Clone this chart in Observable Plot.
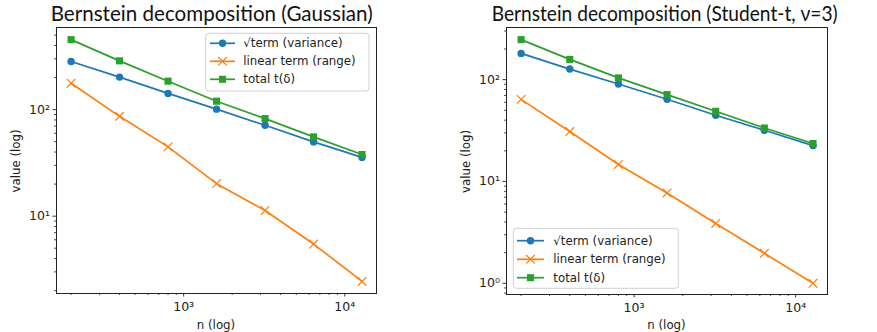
<!DOCTYPE html>
<html><head><meta charset="utf-8">
<script src="https://cdn.jsdelivr.net/npm/d3@7"></script>
<script src="https://cdn.jsdelivr.net/npm/@observablehq/plot@0.6"></script>
<style>
html,body{margin:0;padding:0;background:#fff;}
#wrap{position:relative;width:877px;height:332px;overflow:hidden;background:#fff;}
#wrap > svg{position:absolute;top:0;}
</style></head><body><div id="wrap"></div>
<script>
// ---- data ----
const nValues = [200, 400, 800, 1600, 3200, 6400, 12800];
const gaussSqrt   = [283, 202, 142, 101, 71.3, 49.8, 35.6];
const gaussLinear = [177, 86.5, 44.7, 20.2, 11.3, 5.47, 2.44];
const gaussTotal  = [454, 287, 185, 120, 82.4, 55.5, 37.9];
const studentSqrt   = [181, 127, 90.6, 64.1, 44.7, 31.8, 22.5];
const studentLinear = [64, 30.9, 14.7, 7.72, 3.87, 1.97, 1.0];
const studentTotal  = [247, 158, 104, 71.3, 48.9, 33.5, 23.6];
const seriesNames = ["√term (variance)", "linear term (range)", "total t(δ)"];
const titles = ["Bernstein decomposition (Gaussian)", "Bernstein decomposition (Student-t, ν=3)"];
const xMajorTicks = [1000, 10000];
const xMajorLabels = ["10³", "10⁴"];
const gaussYTicks = [10, 100];
const gaussYLabels = ["10¹", "10²"];
const studentYTicks = [1, 10, 100];
const studentYLabels = ["10⁰", "10¹", "10²"];
const xLabel = "n (log)";
const yLabel = "value (log)";

const colors = ["#1f77b4", "#ff7f0e", "#2ca02c"];
const FONT = "'DejaVu Sans', sans-serif";
const symR = [3.7, 4.0, 4.0];

function panel(o) {
  const rows = (vals) => nValues.map((n, i) => ({n, v: vals[i]}));
  const [sq, li, to] = [rows(o.sqrt), rows(o.linear), rows(o.total)];
  const xDomain = [Math.pow(10, 2.2107), Math.pow(10, 4.1968)];
  const isPow = t => Math.abs(Math.log10(t) - Math.round(Math.log10(t))) < 1e-9;
  const xMinor = d3.scaleLog().domain(xDomain).ticks().filter(t => !isPow(t));
  const yMinor = d3.scaleLog().domain(o.yDomain).ticks().filter(t => !isPow(t));
  const xFmt = d => xMajorLabels[xMajorTicks.indexOf(d)];
  const yFmt = d => o.yLabels[o.yTicks.indexOf(d)];
  return Plot.plot({
    width: o.width, height: 332,
    marginLeft: o.ml, marginRight: o.mr, marginTop: o.mt, marginBottom: o.mb,
    style: {fontFamily: FONT, fontSize: "12.5px", color: "#222", background: "transparent", overflow: "visible"},
    x: {type: "log", domain: xDomain},
    y: {type: "log", domain: o.yDomain},
    marks: [
      Plot.axisX(xMinor, {tickSize: 2, tickFormat: () => "", label: null, strokeWidth: 0.8}),
      Plot.axisX(xMajorTicks, {tickSize: 3.5, tickPadding: 5.5, tickFormat: xFmt, label: null, strokeWidth: 0.9}),
      Plot.axisY(yMinor, {tickSize: 2, tickFormat: () => "", label: null, strokeWidth: 0.8}),
      Plot.axisY(o.yTicks, {tickSize: 3.5, tickPadding: 3, tickFormat: yFmt, label: null, strokeWidth: 0.9}),
      Plot.line(sq, {x: "n", y: "v", stroke: colors[0], strokeWidth: 1.7}),
      Plot.dot(sq, {x: "n", y: "v", fill: colors[0], r: symR[0], symbol: "circle"}),
      Plot.line(li, {x: "n", y: "v", stroke: colors[1], strokeWidth: 1.7}),
      Plot.dot(li, {x: "n", y: "v", stroke: colors[1], r: symR[1], symbol: "times", strokeWidth: 1.2}),
      Plot.line(to, {x: "n", y: "v", stroke: colors[2], strokeWidth: 1.7}),
      Plot.dot(to, {x: "n", y: "v", fill: colors[2], r: symR[2], symbol: "square"}),
      Plot.frame({stroke: "#222", strokeWidth: 1})
    ]
  });
}

const wrap = document.getElementById("wrap");
const left = panel({sqrt: gaussSqrt, linear: gaussLinear, total: gaussTotal,
  yDomain: [Math.pow(10, 0.274), Math.pow(10, 2.771)], yTicks: gaussYTicks, yLabels: gaussYLabels,
  width: 440, ml: 56, mr: 64, mt: 27, mb: 39});
left.style.left = "0px";
wrap.appendChild(left);
const right = panel({sqrt: studentSqrt, linear: studentLinear, total: studentTotal,
  yDomain: [Math.pow(10, -0.11), Math.pow(10, 2.512)], yTicks: studentYTicks, yLabels: studentYLabels,
  width: 437, ml: 66, mr: 50, mt: 27, mb: 38});
right.style.left = "440px";
wrap.appendChild(right);

// ---- overlay: titles, axis labels, legends ----
const ov = d3.create("svg").attr("width", 877).attr("height", 332)
  .style("left", "0px").style("pointer-events", "none");
const T = [{x: 50.7, y: 21, w: 322, fs: 22}, {x: 491.7, y: 20.5, w: 346, fs: 20.5}];
titles.forEach((t, i) => {
  ov.append("text").attr("x", T[i].x).attr("y", T[i].y)
    .attr("textLength", T[i].w).attr("lengthAdjust", "spacingAndGlyphs")
    .style("font-family", "Lato, 'Open Sans', sans-serif").style("font-size", T[i].fs + "px")
    .attr("fill", "#111").text(t);
});
[[15.5, 161], [466, 161.5]].forEach(([x, y]) => {
  ov.append("text").attr("transform", `translate(${x},${y}) rotate(-90)`)
    .attr("text-anchor", "middle").attr("dominant-baseline", "central")
    .style("font-family", FONT).style("font-size", "11.8px").attr("fill", "#222").text(yLabel);
});
[216, 666.5].forEach(x => {
  ov.append("text").attr("x", x).attr("y", 329).attr("text-anchor", "middle")
    .style("font-family", FONT).style("font-size", "11.8px").attr("fill", "#222").text(xLabel);
});
const symbols = [d3.symbolCircle, d3.symbolTimes, d3.symbolSquare];
function legend(box, rowsY, x0, x1, tx) {
  ov.append("rect").attr("x", box[0]).attr("y", box[1]).attr("width", box[2]).attr("height", box[3])
    .attr("rx", 3).attr("fill", "#fff").attr("fill-opacity", 0.8).attr("stroke", "#d0d0d0").attr("stroke-width", 1);
  seriesNames.forEach((name, i) => {
    const y = rowsY[i];
    ov.append("line").attr("x1", x0).attr("x2", x1).attr("y1", y).attr("y2", y)
      .attr("stroke", colors[i]).attr("stroke-width", 1.7);
    const p = ov.append("path").attr("transform", `translate(${(x0 + x1) / 2},${y})`)
      .attr("d", d3.symbol(symbols[i], Math.PI * symR[i] * symR[i])());
    if (i === 1) p.attr("fill", "none").attr("stroke", colors[i]).attr("stroke-width", 1.2);
    else p.attr("fill", colors[i]);
    ov.append("text").attr("x", tx).attr("y", y).attr("dominant-baseline", "central")
      .style("font-family", FONT).style("font-size", "11.8px").attr("fill", "#222").text(name);
  });
}
legend([205.7, 33.3, 163.3, 57.7], [43.3, 61.3, 79.3], 210, 235, 243.3);
legend([513.3, 228.3, 165, 60], [240.7, 259.3, 277.7], 517, 544, 553.3);
wrap.appendChild(ov.node());
</script></body></html>
